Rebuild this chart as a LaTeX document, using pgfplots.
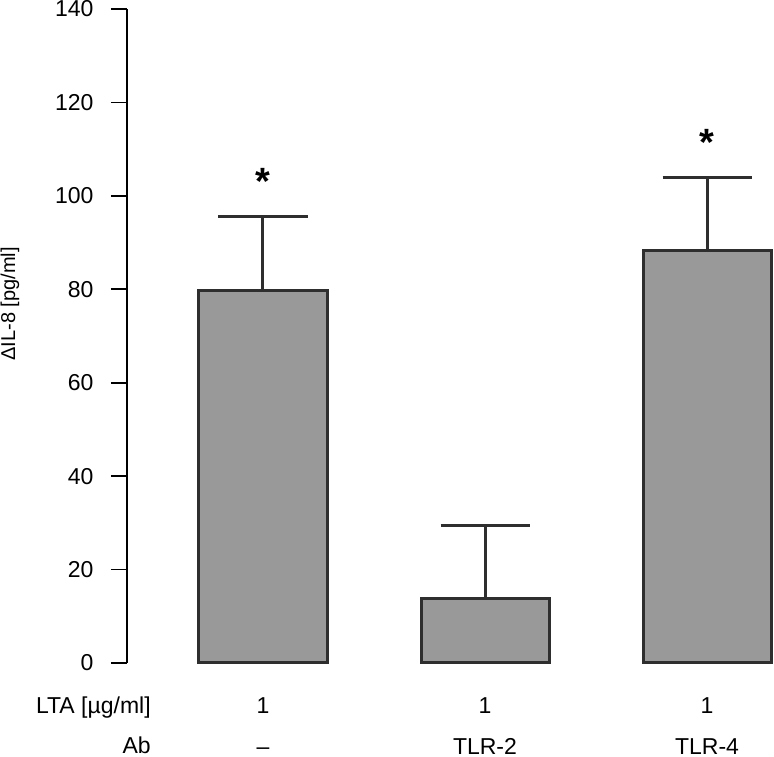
\documentclass[border=0pt]{standalone}
\usepackage{fontspec}
\setmainfont{Liberation Sans}
\usepackage{pgfplots}
\pgfplotsset{compat=1.18}
\definecolor{barfill}{HTML}{999999}
\definecolor{edge}{HTML}{2E2E2E}
\begin{document}
\begin{tikzpicture}
\useasboundingbox (0,0) rectangle (774pt,757pt);
\begin{axis}[
  at={(127pt,94pt)}, anchor=south west,
  scale only axis, width=646.6pt, height=654pt,
  xmin=-0.6126, xmax=2.3, ymin=0, ymax=140,
  axis lines=left,
  axis line style={-, line width=1.6pt, black},
  x axis line style={draw=none},
  tick align=outside,
  major tick length=16pt,
  ytick={0,20,...,140},
  ytick style={line width=1.6pt, black},
  xtick style={draw=none},
  xtick={0,1,2},
  xticklabels={1,1,1},
  extra x ticks={0,1,2},
  extra x tick labels={--,TLR-2,TLR-4},
  extra x tick style={xticklabel style={yshift=-41pt}},
  font=\fontsize{23}{27}\selectfont,
  /pgf/number format/assume math mode=true,
  yticklabel style={font=\fontsize{23}{27}\selectfont, xshift=-14pt},
  xticklabel style={font=\fontsize{23}{27}\selectfont, inner ysep=1pt, yshift=-16.5pt, text height=16.5pt, text depth=0pt},
  every axis y label/.style={at={(axis description cs:-0.181,0.549)}, rotate=90, anchor=center, font=\fontsize{20}{24}\selectfont},
  ylabel={ΔIL-8 [pg/ml]},
  clip=false,
]
\addplot[ybar, bar width=128pt, fill=barfill, draw=edge, line width=3pt,
  error bars/.cd, y dir=plus, y explicit, error mark=|,
  error bar style={line width=3pt, edge},
  error mark options={mark size=44.5pt, line width=3pt, edge}]
  coordinates {(0,79.7) +- (0,15.9) (1,13.9) +- (0,15.5) (2,88.4) +- (0,15.6)};
\node[anchor=base, font=\bfseries\fontsize{38}{40}\selectfont] at (axis cs:0,100.2) {*};
\node[anchor=base, font=\bfseries\fontsize{38}{40}\selectfont] at (axis cs:2,108.6) {*};
\node[anchor=base east, font=\fontsize{23}{27}\selectfont] at (axis cs:-0.49,-10.8) {LTA [µg/ml]};
\node[anchor=base east, font=\fontsize{23}{27}\selectfont, inner ysep=1pt] at (axis cs:-0.49,-19.4) {Ab};
\end{axis}
\end{tikzpicture}
\end{document}
